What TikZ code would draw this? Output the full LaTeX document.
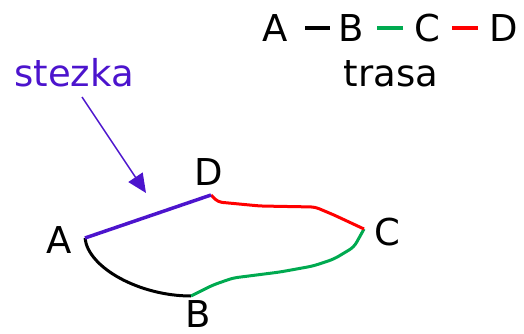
\documentclass[tikz,border=0pt]{standalone}
\usepackage{fontspec}
\setmainfont{DejaVu Sans}
\usetikzlibrary{arrows.meta}
\definecolor{stezkacol}{RGB}{76,20,205}
\definecolor{trasagreen}{RGB}{0,170,80}
\begin{document}
\begin{tikzpicture}[x=1pt, y=-1pt,
    lbl/.style={inner sep=0pt, font=\fontsize{37}{40}\selectfont},
    route/.style={line width=3pt, line join=round},
    legend/.style={line width=4pt}]
    \useasboundingbox (0,0) rectangle (524,334);
    % points of the map
    \coordinate (A) at (85,238);
    \coordinate (B) at (191,296);
    \coordinate (C) at (364,229);
    \coordinate (D) at (211,195);
    \node[lbl] (la) at (59,240) {A};
    \node[lbl] (lb) at (198,314) {B};
    \node[lbl] (lc) at (387,232) {C};
    \node[lbl] (ld) at (209,172) {D};
    % trasa A - B - C - D
    \draw[route] (A) .. controls (88,268) and (140,296) .. (B);
    \draw[route, trasagreen, rounded corners=5pt] (B) -- (213,285) -- (233,278) -- (280,272) -- (313,266) -- (334,259) -- (354,247) -- (C);
    \draw[route, red, rounded corners=4pt] (C) -- (334,215) -- (315,207) -- (260,206) -- (218,202) -- (D);
    % stezka A - D
    \draw[route, stezkacol, line width=3.5pt] (A) -- (D);
    \node[lbl, stezkacol, anchor=base] (stezka) at (74,87) {stezka};
    \coordinate (tip) at (146,193);
    \draw[stezkacol, line width=1.5pt, -{Triangle[length=19pt,width=17pt]}] (82,97) -- (tip);
    % legend
    \node[lbl, anchor=base] (ta) at (275,42) {A};
    \node[lbl, anchor=base] (tb) at (351,42) {B};
    \node[lbl, anchor=base] (tc) at (427,42) {C};
    \node[lbl, anchor=base] (td) at (504,42) {D};
    \draw[legend] ([xshift=30pt,yshift=14pt]ta.base) -- ([xshift=-21pt,yshift=14pt]tb.base);
    \draw[legend, trasagreen] ([xshift=26pt,yshift=14pt]tb.base) -- ([xshift=-24pt,yshift=14pt]tc.base);
    \draw[legend, red] ([xshift=25pt,yshift=14pt]tc.base) -- ([xshift=-26pt,yshift=14pt]td.base);
    \node[lbl, anchor=base] (trasa) at (391,87) {trasa};
\end{tikzpicture}
\end{document}
